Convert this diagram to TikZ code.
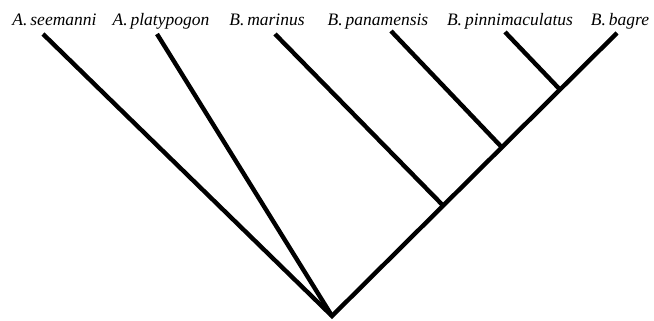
\documentclass[tikz,border=0pt]{standalone}
\usepackage{fontspec}
\setmainfont{Liberation Serif}
\usetikzlibrary{calc}
\begin{document}
\begin{tikzpicture}[x=1pt,y=-1pt,
  branch/.style={line width=4.4pt,line cap=butt,line join=miter},
  taxon/.style={anchor=base,inner sep=0pt,font=\fontsize{17.5}{17.5}\selectfont\itshape}]
\useasboundingbox (0,0) rectangle (654,321);
% labels
\node[taxon] (l1) at (54.5,26) {A.\,seemanni};
\node[taxon] (l2) at (161,26) {A.\,platypogon};
\node[taxon] (l3) at (267,26) {B.\,marinus};
\node[taxon] (l4) at (378,26) {B.\,panamensis};
\node[taxon] (l5) at (510,26) {B.\,pinnimaculatus};
\node[taxon] (l6) at (620,26) {B.\,bagre};
% tips
\coordinate (t1) at (43,34);
\coordinate (t2) at (157,34);
\coordinate (t3) at (275,34);
\coordinate (t4) at (391,31);
\coordinate (t5) at (505,32);
\coordinate (t6) at (617,33);
% internal nodes
\coordinate (root) at (332,316);
\coordinate (n3) at ($(root)!0.39!(t6)$);
\coordinate (n4) at ($(root)!0.596!(t6)$);
\coordinate (n5) at ($(root)!0.80!(t6)$);
% branches
\draw[branch] (t1) -- (root) -- (t6);
\draw[branch] (t2) -- (root);
\draw[branch] (t3) -- (n3);
\draw[branch] (t4) -- (n4);
\draw[branch] (t5) -- (n5);
\end{tikzpicture}
\end{document}
